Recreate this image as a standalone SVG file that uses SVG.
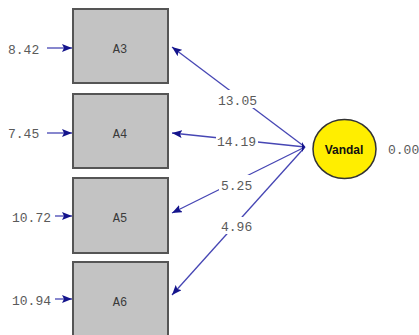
<svg xmlns="http://www.w3.org/2000/svg" width="419" height="335" viewBox="0 0 419 335">
<style>
.box{fill:#c3c3c3;stroke:#555;stroke-width:2}
.name{font-family:"Liberation Mono",monospace;font-size:12px;fill:#3a3a3a;text-anchor:middle}
.num{font-family:"Liberation Mono",monospace;font-size:13px;fill:#5a5a5a}
.ln{stroke:#4646b4;stroke-width:1.3;fill:none;marker-end:url(#ah)}
.bg{fill:#fff}
</style>
<defs>
<marker id="ah" viewBox="0 0 10 8" refX="10" refY="4" markerWidth="10" markerHeight="8" markerUnits="userSpaceOnUse" orient="auto">
<path d="M0,0 L10,4 L0,8 L2,4 Z" fill="#14148c"/>
</marker>
</defs>
<rect width="419" height="335" fill="#fff"/>
<g id="connectors">
<line class="ln" x1="305" y1="147" x2="172" y2="47"/>
<line class="ln" x1="305" y1="147" x2="172" y2="133"/>
<line class="ln" x1="305" y1="147" x2="172" y2="213"/>
<line class="ln" x1="305" y1="147" x2="172" y2="295"/>
<line class="ln" x1="47" y1="48" x2="72" y2="48"/>
<line class="ln" x1="47" y1="133" x2="72" y2="133"/>
<line class="ln" x1="55" y1="216" x2="72" y2="216"/>
<line class="ln" x1="55" y1="299" x2="72" y2="299"/>
<path d="M305,147 l-3,-5 l0,10 z" fill="#14148c"/>
</g>
<g id="loadings">
<rect class="bg" x="217" y="90" width="42" height="18"/>
<text class="num" x="218" y="105">13.05</text>
<rect class="bg" x="216" y="134" width="42" height="15"/>
<text class="num" x="217" y="146">14.19</text>
<rect class="bg" x="219" y="175" width="36" height="17"/>
<text class="num" x="221" y="190">5.25</text>
<rect class="bg" x="219" y="217" width="36" height="17"/>
<text class="num" x="221" y="231">4.96</text>
</g>
<g id="errors">
<text class="num" x="8" y="54">8.42</text>
<text class="num" x="8" y="138">7.45</text>
<text class="num" x="12" y="222">10.72</text>
<text class="num" x="12" y="305">10.94</text>
</g>
<g id="A3"><rect class="box" x="73" y="9" width="95" height="74"/><text class="name" x="120" y="53">A3</text></g>
<g id="A4"><rect class="box" x="73" y="94" width="95" height="74"/><text class="name" x="120" y="138">A4</text></g>
<g id="A5"><rect class="box" x="73" y="178" width="95" height="75"/><text class="name" x="120" y="222">A5</text></g>
<g id="A6"><rect class="box" x="73" y="262" width="95" height="74"/><text class="name" x="120" y="306">A6</text></g>
<g id="Vandal">
<ellipse cx="344.5" cy="149" rx="31.5" ry="29.5" fill="#ffee00" stroke="#333" stroke-width="1.5"/>
<text x="344" y="154" font-family="Liberation Sans,Arial,sans-serif" font-size="12" font-weight="bold" fill="#111" text-anchor="middle">Vandal</text>
<text class="num" x="388" y="154">0.00</text>
</g>
</svg>
